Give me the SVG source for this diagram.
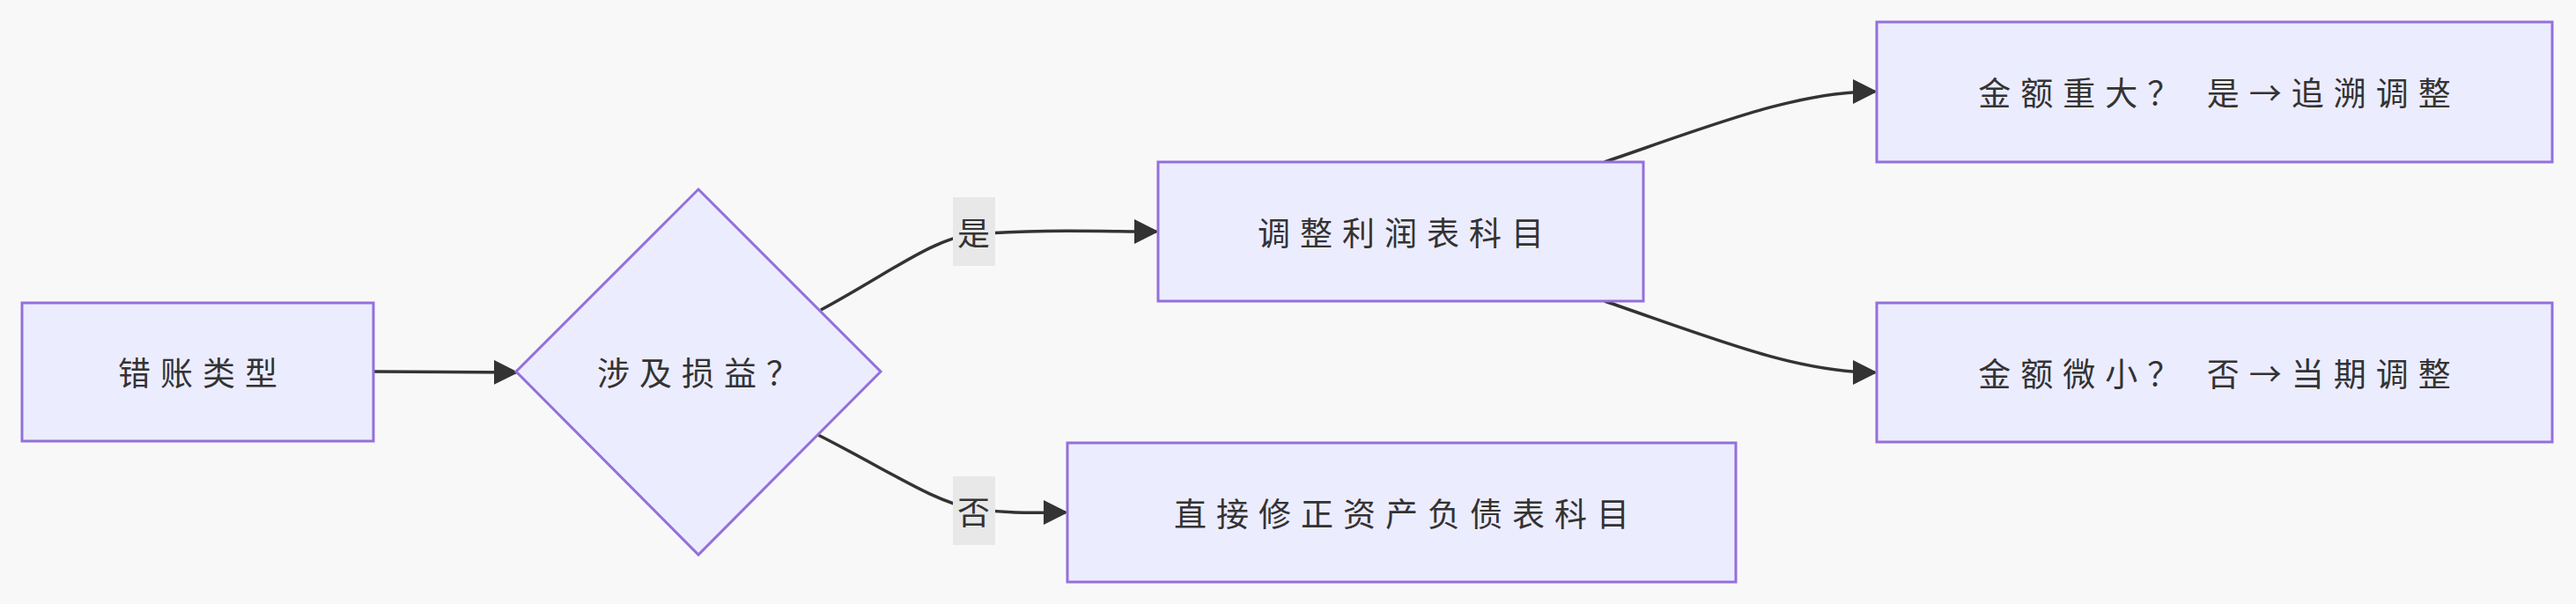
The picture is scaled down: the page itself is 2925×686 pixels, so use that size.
<svg xmlns="http://www.w3.org/2000/svg" width="2925" height="686" viewBox="0 0 2925 686">
<style>
.n{fill:#ECECFF;stroke:#9370DB;stroke-width:3}
.t{font-family:"Noto Sans CJK SC","Noto Sans",sans-serif;font-size:37px;fill:#333;text-anchor:middle;dominant-baseline:central;letter-spacing:11px}
.e{fill:none;stroke:#333;stroke-width:3.5}
.lb{fill:#e8e8e8}
</style>
<defs><marker id="a" viewBox="0 0 10 10" refX="9" refY="5" markerWidth="7" markerHeight="7" markerUnits="userSpaceOnUse" orient="auto"><path d="M0,0L10,5L0,10z" fill="#333"/></marker>
<marker id="m" viewBox="0 0 10 10" refX="9" refY="5" markerWidth="8" markerHeight="8" orient="auto"><path d="M0,0L10,5L0,10z" fill="#333"/></marker></defs>
<rect width="2925" height="686" fill="#f8f8f8"/>
<g id="edges">
<path class="e" marker-end="url(#m)" d="M424,422 L586,423"/>
<path class="e" marker-end="url(#m)" d="M932,352 C1010,310 1060,270 1106,266 C1180,260 1250,263 1313,263"/>
<path class="e" marker-end="url(#m)" d="M929,494 C1010,535 1060,570 1106,578 C1150,584 1180,582 1210,582"/>
<path class="e" marker-end="url(#m)" d="M1822,184 C1950,140 2040,104 2129,104"/>
<path class="e" marker-end="url(#m)" d="M1822,342 C1950,386 2040,423 2129,423"/>
<rect class="lb" x="1082" y="224" width="48" height="78"/>
<text class="t" x="1111" y="263">是</text>
<rect class="lb" x="1082" y="541" width="48" height="78"/>
<text class="t" x="1111" y="580">否</text>
</g>
<g id="n1"><rect class="n" x="25" y="344" width="399" height="157"/><text class="t" x="230" y="422">错账类型</text></g>
<g id="n2"><polygon class="n" points="793,215 1000,422 793,630 586,422"/><text class="t" x="798" y="422">涉及损益？</text></g>
<g id="n3"><rect class="n" x="1315" y="184" width="551" height="158"/><text class="t" x="1596" y="263">调整利润表科目</text></g>
<g id="n4"><rect class="n" x="2131" y="25" width="767" height="159"/><text class="t" x="2520" y="104">金额重大？ 是→追溯调整</text></g>
<g id="n5"><rect class="n" x="2131" y="344" width="767" height="158"/><text class="t" x="2520" y="423">金额微小？ 否→当期调整</text></g>
<g id="n6"><rect class="n" x="1212" y="503" width="759" height="158"/><text class="t" x="1597" y="582">直接修正资产负债表科目</text></g>
</svg>
